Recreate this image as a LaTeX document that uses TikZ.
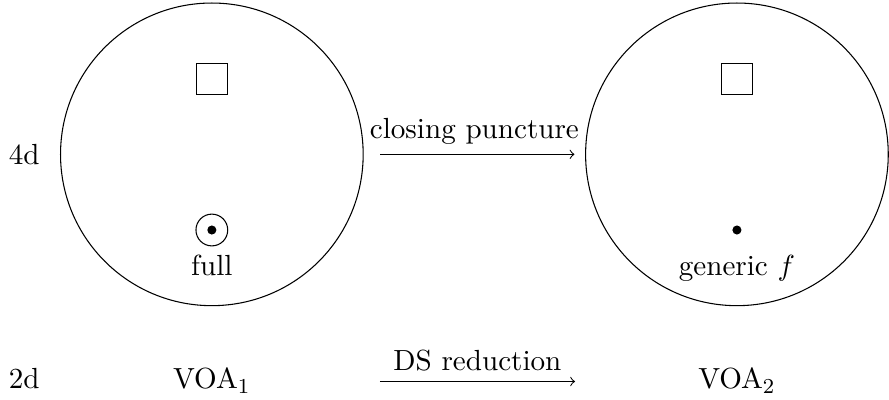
\documentclass[11pt,tikz,border=0pt]{standalone}
\usepackage{amsmath}
\usetikzlibrary{positioning}
\tikzset{
  disk/.style={circle,draw,minimum size=4cm,inner sep=0pt},
  boxmark/.style={draw,minimum size=0.41cm,inner sep=0pt},
  fullmark/.style={circle,draw,minimum size=0.42cm,inner sep=0pt},
  dotmark/.style={circle,fill,minimum size=0.12cm,inner sep=0pt},
  arrowlabel/.style={above}
}
\begin{document}
\begin{tikzpicture}
    \useasboundingbox (0,0) rectangle (11.75,-5.274);
    \node[disk] (disk1) at (2.80,-2.04) {};
    \node[disk] (disk2) at (9.74,-2.04) {};

    \node[boxmark] (box1) at (2.80,-1.04) {};
    \node[boxmark] (box2) at (9.74,-1.04) {};

    \node[fullmark] (full) at (2.80,-3.04) {};
    \node[dotmark] (fulldot) at (full) {};
    \node[dotmark] (gen) at (9.74,-3.04) {};
    \node[anchor=base] (fulltext) at (2.80,-3.64) {full};
    \node[anchor=base] (gentext) at (9.74,-3.64) {generic $f$};

    \node (fourd) at (0.32,-2.04) {4d};
    \node[anchor=base] (twod) at (0.32,-5.14) {2d};
    \node[anchor=base] (voa1) at (2.80,-5.14) {VOA$_1$};
    \node[anchor=base] (voa2) at (9.74,-5.14) {VOA$_2$};

    \coordinate (ds1) at (5.02,-5.042);
    \coordinate (ds2) at (7.60,-5.042);

    \draw[->,shorten <=0.22cm,shorten >=0.14cm] (disk1) -- node[arrowlabel] {closing puncture} (disk2);
    \draw[->] (ds1) -- node[arrowlabel] {DS reduction} (ds2);
\end{tikzpicture}
\end{document}
